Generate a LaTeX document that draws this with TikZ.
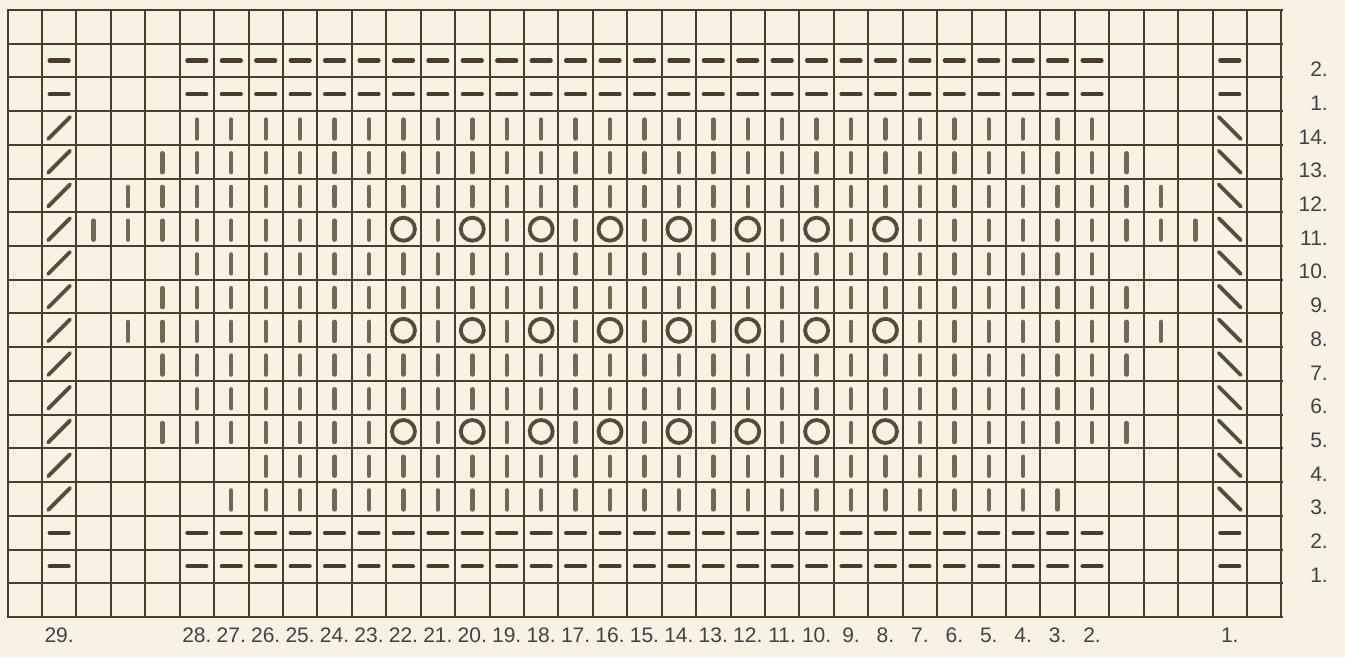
\documentclass[tikz,border=0pt]{standalone}
\usepackage{fontspec}
\setmainfont{Liberation Sans}

\definecolor{paper}{RGB}{247,242,228}
\definecolor{gridc}{RGB}{72,62,44}
\definecolor{knitc}{RGB}{112,104,84}
\definecolor{purlc}{RGB}{74,60,42}
\definecolor{yoc}{RGB}{88,74,56}
\definecolor{slantc}{RGB}{84,78,58}
\definecolor{lblc}{RGB}{66,66,66}

\newcommand{\colw}{34.43}
\newcommand{\rowh}{33.72}

\begin{document}
\begin{tikzpicture}[
  x=1pt, y=-1pt,
  gridline/.style={draw=gridc, line width=2pt, line cap=rect},
  knit/.style={draw=knitc, line width=4.4pt, line cap=round},
  purl/.style={draw=purlc, line width=4.2pt, line cap=round},
  yo/.style={draw=yoc, line width=3.8pt},
  slant/.style={draw=slantc, line width=3.8pt, line cap=round},
  lbl/.style={font=\fontsize{21}{25}\selectfont, text=lblc, inner sep=0pt}
]

\fill[paper] (0,0) rectangle (1345,657);

% chart grid
\foreach \i in {0,...,37}
  \draw[gridline] ({7.5+\i*\colw},10) -- ++(0,607);
\foreach \j in {0,...,18}
  \draw[gridline] (7.5,{10+\j*\rowh}) -- ++(1274,0);

% purl rows, top and bottom
\foreach \r in {1,2,15,16}{
  \foreach \c in {5,...,31}
    \draw[purl] ({7.5+(\c+0.5)*\colw-9.5},{10+(\r+0.5)*\rowh}) -- ++(19,0);
  \draw[purl] ({7.5+1.5*\colw-9.5},{10+(\r+0.5)*\rowh}) -- ++(19,0);
  \draw[purl] ({7.5+35.5*\colw-9.5},{10+(\r+0.5)*\rowh}) -- ++(19,0);
}

% edge stitches
\foreach \r in {3,...,14}{
  \draw[slant] ({7.5+1.5*\colw-11},{10+(\r+0.5)*\rowh+11}) -- ++(22,-22);
  \draw[slant] ({7.5+35.5*\colw-11},{10+(\r+0.5)*\rowh-11}) -- ++(22,22);
}

% knit stitches and yarn overs
\foreach \r/\hw in {3/13,4/14,5/15,6/16,7/13,8/14,9/15,10/14,11/13,12/14,13/11,14/12}{
  \pgfmathtruncatemacro\lo{18-\hw}
  \pgfmathtruncatemacro\hi{18+\hw}
  \foreach \c in {\lo,...,\hi}{
    \pgfmathtruncatemacro\isyo{((\r==6)||(\r==9)||(\r==12))&&(\c>10)&&(\c<26)&&(mod(\c,2)==1)}
    \ifnum\isyo=1
      \draw[yo] ({7.5+(\c+0.5)*\colw},{10+(\r+0.5)*\rowh}) circle[radius=11.5];
    \else
      \draw[knit] ({7.5+(\c+0.5)*\colw},{10+(\r+0.5)*\rowh-8.5}) -- ++(0,19);
    \fi
  }
}

% stitch numbers
\node[lbl, anchor=base] (col29) at ({7.5+1.5*\colw},642) {29.};
\foreach \c in {5,...,31}{
  \pgfmathtruncatemacro\lab{33-\c}
  \node[lbl, anchor=base] (col\lab) at ({7.5+(\c+0.5)*\colw},642) {\lab.};
}
\node[lbl, anchor=base] (col1) at ({7.5+35.5*\colw},642) {1.};

% row numbers
\foreach \r/\t in {1/2,2/1,3/14,4/13,5/12,6/11,7/10,8/9,9/8,10/7,11/6,12/5,13/4,14/3,15/2,16/1}
  \node[lbl, anchor=base east] (row\r) at (1328,{10+(\r+0.5)*\rowh+16}) {\t.};

\end{tikzpicture}
\end{document}
